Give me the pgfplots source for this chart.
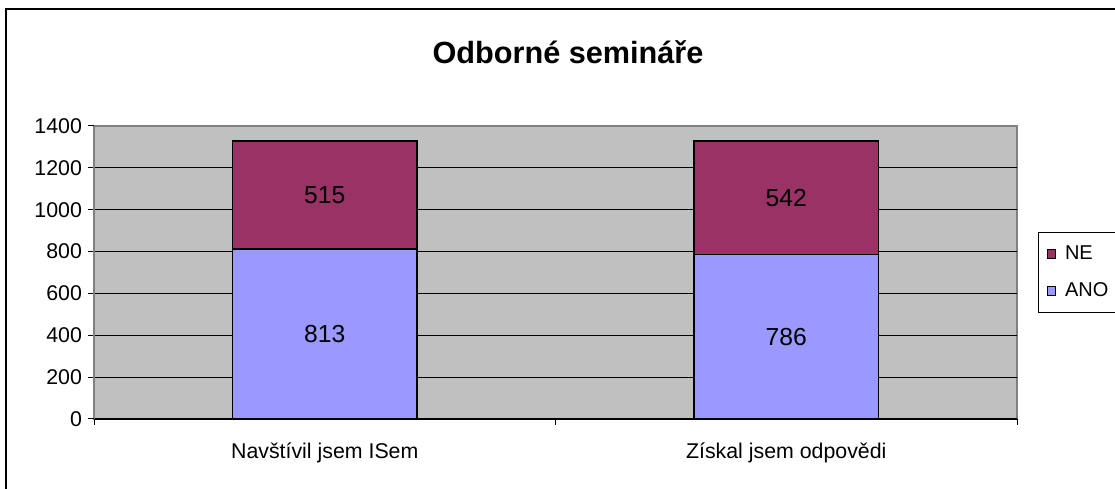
\documentclass[border=0pt]{standalone}
\usepackage{pgfplots}
\pgfplotsset{compat=1.18}
\usepackage{fontspec}
\setmainfont{Liberation Sans}
\definecolor{plotbg}{HTML}{C0C0C0}
\definecolor{bordergray}{HTML}{808080}
\definecolor{ano}{HTML}{9999FF}
\definecolor{ne}{HTML}{993366}
\begin{document}
\begin{tikzpicture}
\useasboundingbox (0,0) rectangle (836.25pt,366.75pt);
\fill[white] (0,0) rectangle (836.25pt,366.75pt);
\draw[black, line width=1.5pt] (4.5pt,-10pt) rectangle (850pt,360pt);
\node[font=\fontsize{23}{27}\selectfont\bfseries] at (426pt,327.75pt) {Odborné semináře};
\begin{axis}[
  at={(70.5pt,52.5pt)}, anchor=south west,
  scale only axis, width=692.25pt, height=219.75pt,
  ybar stacked, bar width=0.4,
  xmin=-0.5, xmax=1.5, ymin=0, ymax=1400,
  axis background/.style={fill=plotbg, draw=bordergray, line width=1.5pt},
  axis x line*=bottom, axis y line*=left,
  x axis line style={black, line width=1.1pt},
  y axis line style={bordergray, line width=1.5pt},
  ytick={200,400,...,1200},
  extra y ticks={0,1400},
  extra y tick style={grid=none},
  ymajorgrids,
  grid style={black, line width=0.75pt},
  tick style={black, line width=0.75pt},
  major tick length=4.5pt, tick align=outside,
  xtick={-0.5,0.5,1.5}, xticklabels={},
  extra x ticks={0,1},
  extra x tick labels={Navštívil jsem ISem, Získal jsem odpovědi},
  extra x tick style={major tick length=0pt, xticklabel style={yshift=-14pt}},
  ticklabel style={font=\fontsize{16}{19}\selectfont},
  yticklabel style={xshift=-1pt},
  /pgf/number format/assume math mode=true,
  /pgf/number format/1000 sep={},
  nodes near coords,
  point meta=explicit,
  every node near coord/.append style={anchor=center, text=black,
     font=\fontsize{18.5}{22}\selectfont},
  legend style={at={(1.0228,0.638)}, anchor=north west, draw=black,
     line width=0.75pt, fill=white, font=\fontsize{15}{18}\selectfont,
     row sep=12pt, inner xsep=6pt, inner ysep=8pt},
  legend cell align=left, reverse legend,
  every axis plot post/.append style={legend image code/.code={
     \draw[#1, draw=black, line width=0.6pt] (0pt,-3.2pt) rectangle (6.4pt,3.2pt);
     \path (11pt,0pt);}},
]
\addplot[fill=ano, draw=black, line width=1.1pt] coordinates {(0,813)[813] (1,786)[786]};
\addlegendentry{ANO}
\addplot[fill=ne, draw=black, line width=1.1pt] coordinates {(0,515)[515] (1,542)[542]};
\addlegendentry{NE}
\end{axis}
\end{tikzpicture}
\end{document}
